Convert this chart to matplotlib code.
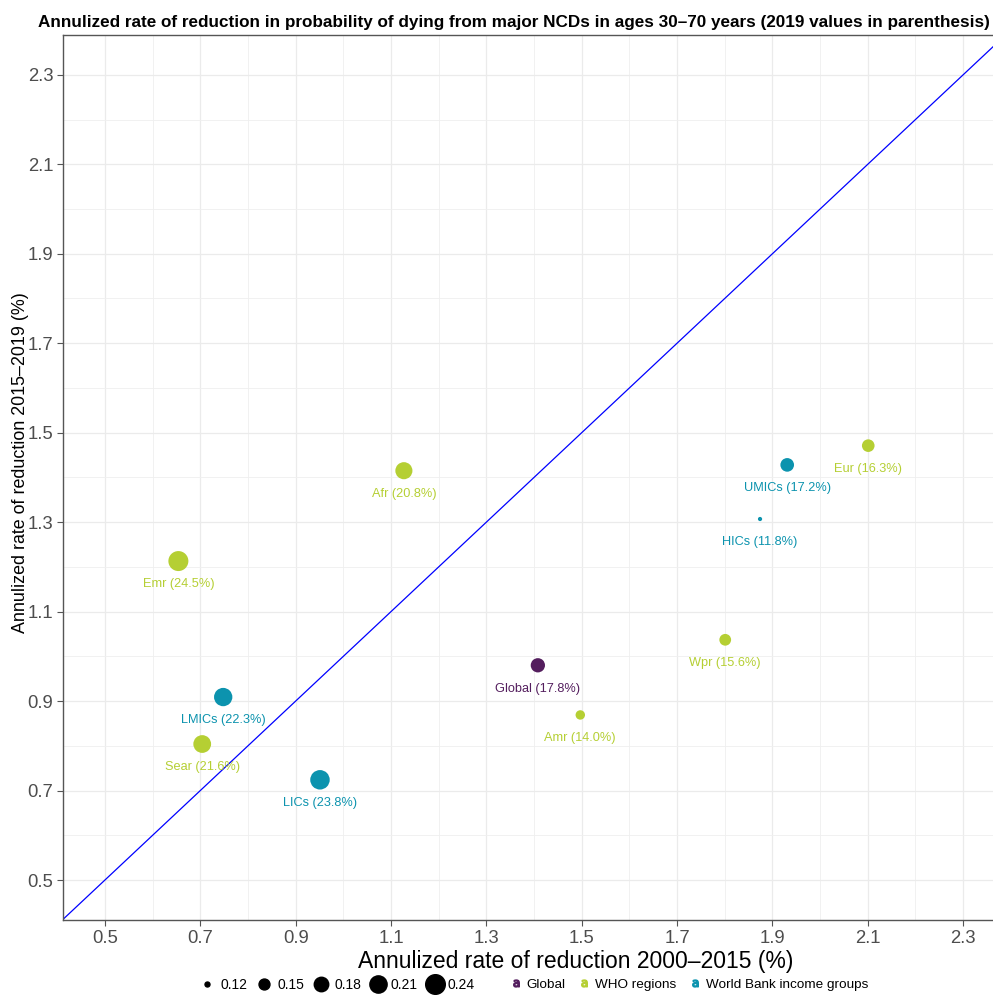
import matplotlib
matplotlib.use("Agg")
import matplotlib.pyplot as plt
from matplotlib.lines import Line2D
from matplotlib.ticker import MultipleLocator
import numpy as np

plt.rcParams['font.family'] = ['Liberation Sans', 'DejaVu Sans']

# data
names = ["Global", "Afr", "Amr", "Emr", "Eur", "Sear", "Wpr",
         "HICs", "UMICs", "LMICs", "LICs"]
groups = ["Global", "WHO regions", "WHO regions", "WHO regions", "WHO regions",
          "WHO regions", "WHO regions", "World Bank income groups",
          "World Bank income groups", "World Bank income groups",
          "World Bank income groups"]
arr_2000_2015 = [1.408, 1.127, 1.497, 0.654, 2.101, 0.704, 1.801,
                 1.874, 1.931, 0.748, 0.951]
arr_2015_2019 = [0.980, 1.415, 0.869, 1.213, 1.471, 0.804, 1.037,
                 1.307, 1.428, 0.909, 0.724]
prob_2019 = [0.178, 0.208, 0.140, 0.245, 0.163, 0.216, 0.156,
             0.118, 0.172, 0.223, 0.238]
size_breaks = [0.12, 0.15, 0.18, 0.21, 0.24]
tick_vals = [0.5, 0.7, 0.9, 1.1, 1.3, 1.5, 1.7, 1.9, 2.1, 2.3]

group_names = ["Global", "WHO regions", "World Bank income groups"]
group_colors = {"Global": "#541E5E", "WHO regions": "#B5CF33",
                "World Bank income groups": "#0C93AE"}

vmin, vmax = min(prob_2019), max(prob_2019)


def marker_size(v):
    # ggplot-like area scale, range 1..6, converted to points
    sz = np.sqrt(1 + 35 * (np.asarray(v) - vmin) / (vmax - vmin))
    diam_px = 1.11 * (sz * 2.845 + 0.945)
    return diam_px * 0.72


fig = plt.figure(figsize=(9.93, 9.96), dpi=100)
W, H = 993, 996
ax = fig.add_axes([63 / W, (H - 920) / H, (1089 - 63) / W, (920 - 35) / H])

ax.set_xlim(0.412, 2.564)
ax.set_ylim(0.4106, 2.389)
ax.set_xticks(tick_vals)
ax.set_yticks(tick_vals)
ax.set_xticklabels([f"{t:.1f}" for t in tick_vals])
ax.set_yticklabels([f"{t:.1f}" for t in tick_vals])
ax.xaxis.set_minor_locator(MultipleLocator(0.2))
ax.yaxis.set_minor_locator(MultipleLocator(0.2))
ax.grid(which='major', color='#EBEBEB', lw=0.9)
ax.grid(which='minor', color='#EFEFEF', lw=0.6)
ax.set_axisbelow(True)
ax.tick_params(which='minor', length=0)
ax.tick_params(which='major', length=4, color='#555555', labelsize=13.3,
               labelcolor='#4D4D4D', pad=3)
for s in ax.spines.values():
    s.set_color('#555555')
    s.set_linewidth(1.0)

ax.axline((1, 1), slope=1, color='blue', lw=0.9, zorder=2)

x = np.array(arr_2000_2015)
y = np.array(arr_2015_2019)
cols = [group_colors[g] for g in groups]
ax.scatter(x, y, s=marker_size(prob_2019) ** 2, c=cols, lw=0, zorder=3)
for xi, yi, n, p, c in zip(x, y, names, prob_2019, cols):
    ax.text(xi, yi - 0.052, f"{n} ({p * 100:.1f}%)", color=c, fontsize=9.2,
            ha='center', va='center', zorder=4)

ax.set_xlabel("Annulized rate of reduction 2000\u20132015 (%)", fontsize=16.5,
              labelpad=2)
ax.set_ylabel("Annulized rate of reduction 2015\u20132019 (%)", fontsize=12.9,
              va='center')
ax.yaxis.set_label_coords((21 - 63) / 1026, (920 - 463) / 885)

fig.text(38 / W, 1 - 22 / H,
         "Annulized rate of reduction in probability of dying from major NCDs "
         "in ages 30\u201370 years (2019 values in parenthesis)",
         fontsize=12.3, fontweight='bold', ha='left', va='center')

size_handles = [Line2D([], [], ls='', marker='o', color='black',
                       markersize=marker_size(b)) for b in size_breaks]
leg1 = fig.legend(size_handles, [f"{b:.2f}" for b in size_breaks],
                  loc='center left', bbox_to_anchor=(197 / W, 1 - 985 / H),
                  ncol=5, frameon=False, fontsize=10, handlelength=1.5,
                  handletextpad=0.2, columnspacing=0.45, borderpad=0,
                  borderaxespad=0)
col_handles = [Line2D([], [], ls='', marker=r'$\mathsf{a}$',
                      color=group_colors[g], markersize=5) for g in group_names]
leg2 = fig.legend(col_handles, group_names, loc='center left',
                  bbox_to_anchor=(509 / W, 1 - 985 / H), ncol=3,
                  frameon=False, fontsize=9.7, handlelength=1.0,
                  handletextpad=0.3, columnspacing=0.9, borderpad=0,
                  borderaxespad=0)

fig.savefig("out.png", dpi=100)
